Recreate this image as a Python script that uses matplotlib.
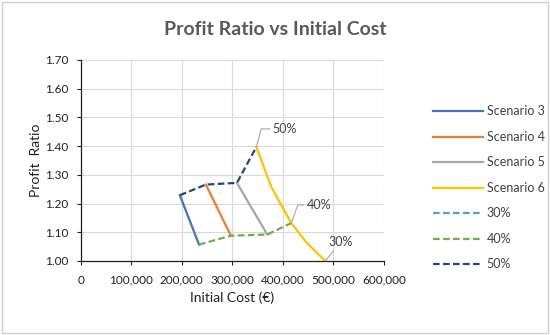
import matplotlib
matplotlib.use("Agg")
import matplotlib.pyplot as plt
from matplotlib.patches import Rectangle
from matplotlib.ticker import FuncFormatter

plt.rcParams['font.family'] = ['Lato', 'DejaVu Sans']

# data
s3_x = [196000, 234000]
s3_y = [1.229, 1.057]
s4_x = [247500, 297000]
s4_y = [1.266, 1.088]
s5_x = [309000, 369000]
s5_y = [1.272, 1.092]
s6_x = [347500, 377000, 416500, 446000, 484000]
s6_y = [1.397, 1.258, 1.132, 1.066, 1.000]
p30_x = [484000]
p30_y = [1.000]
p40_x = [234000, 297000, 369000, 416500]
p40_y = [1.057, 1.088, 1.092, 1.132]
p50_x = [196000, 247500, 309000, 347500]
p50_y = [1.229, 1.266, 1.272, 1.397]

x_ticks = [0, 100000, 200000, 300000, 400000, 500000, 600000]
y_ticks = [1.00, 1.10, 1.20, 1.30, 1.40, 1.50, 1.60, 1.70]

fig = plt.figure(figsize=(5.5, 3.35), dpi=100)
ax = fig.add_axes([0.147, 0.221, 0.551, 0.600])

ax.plot(s3_x, s3_y, color='#4472C4', lw=1.6, label='Scenario 3')
ax.plot(s4_x, s4_y, color='#ED7D31', lw=1.6, label='Scenario 4')
ax.plot(s5_x, s5_y, color='#A5A5A5', lw=1.6, label='Scenario 5')
ax.plot(s6_x, s6_y, color='#FFC000', lw=1.6, label='Scenario 6')
ax.plot(p30_x, p30_y, color='#5B9BD5', lw=1.6, ls=(0, (3, 1.5)), label='30%')
ax.plot(p40_x, p40_y, color='#70AD47', lw=1.6, ls=(0, (3, 1.5)), label='40%')
ax.plot(p50_x, p50_y, color='#264478', lw=1.6, ls=(0, (3, 1.5)), label='50%')

# point labels with leader lines
lead = dict(arrowstyle='-', color='#A6A6A6', lw=0.8, shrinkA=0, shrinkB=0)
ax.annotate('50%', xy=(p50_x[-1], p50_y[-1]), xytext=(380000, 1.46),
            fontsize=9, color='#404040', va='center',
            arrowprops=dict(lead, connectionstyle='angle,angleA=0,angleB=75,rad=0'))
ax.annotate('40%', xy=(p40_x[-1], p40_y[-1]), xytext=(447000, 1.195),
            fontsize=9, color='#404040', va='center',
            arrowprops=dict(lead, connectionstyle='angle,angleA=0,angleB=70,rad=0'))
ax.annotate('30%', xy=(p30_x[0], p30_y[0]), xytext=(490000, 1.065),
            fontsize=9, color='#404040', va='center',
            arrowprops=dict(lead))

ax.set_xlim(0, 600000)
ax.set_ylim(1.0, 1.7)
ax.set_xticks(x_ticks)
ax.set_yticks(y_ticks)
ax.xaxis.set_major_formatter(FuncFormatter(lambda v, p: '{:,.0f}'.format(v)))
ax.yaxis.set_major_formatter(FuncFormatter(lambda v, p: '%.2f' % v))
ax.tick_params(labelsize=8.5, colors='#202020', length=3, width=0.8)
ax.tick_params(axis='x', pad=7)
ax.tick_params(axis='y', pad=6)
ax.grid(color='#D9D9D9', lw=0.8)
ax.set_axisbelow(True)
for side in ['top', 'right']:
    ax.spines[side].set_visible(False)
for side in ['left', 'bottom']:
    ax.spines[side].set_color('#202020')
    ax.spines[side].set_linewidth(0.9)

ax.set_xlabel('Initial Cost (€)', fontsize=10, color='#202020', labelpad=4)
ax.set_ylabel('Profit  Ratio', fontsize=10, color='#202020', labelpad=2)
fig.text(0.5, 0.913, 'Profit Ratio vs Initial Cost', ha='center', va='center',
         fontsize=14, fontweight='bold', color='#595959')

ax.legend(loc='upper left', bbox_to_anchor=(1.125, 0.83), frameon=False,
          fontsize=9, handlelength=4.0, handletextpad=0.3, labelspacing=1.08,
          labelcolor='#404040')

fig.patches.append(Rectangle((0.004, 0.006), 0.992, 0.988, transform=fig.transFigure,
                             fill=False, edgecolor='#D0D0D0', lw=1))

fig.savefig('out.png', dpi=100)
